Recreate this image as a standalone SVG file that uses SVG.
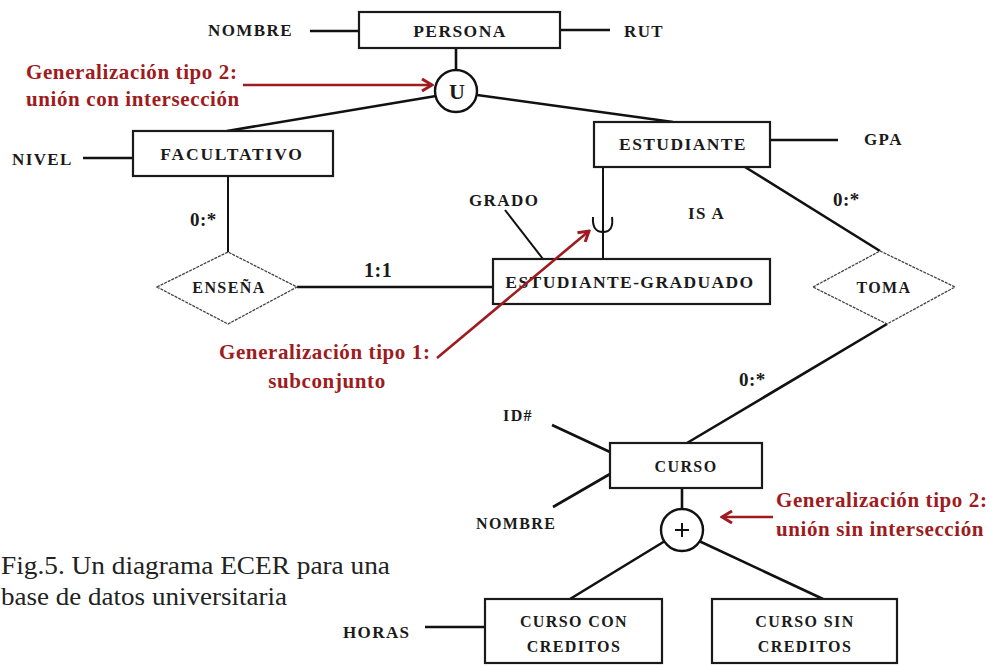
<svg xmlns="http://www.w3.org/2000/svg" width="989" height="667" viewBox="0 0 989 667">
  <defs>
    <marker id="redHead" markerWidth="14" markerHeight="14" viewBox="0 0 14 14" refX="12" refY="7" orient="auto" markerUnits="userSpaceOnUse">
      <path d="M2,1 L12,7 L2,13" fill="none" stroke="#9e1b20" stroke-width="3"/>
    </marker>
    <style>
      .ent { fill: #fff; stroke: #1a1a1a; stroke-width: 2.2; }
      .rel { fill: #fff; stroke: #444; stroke-width: 1.3; stroke-dasharray: 3 1; }
      .ln { stroke: #111; stroke-width: 2.6; fill: none; }
      .thin { stroke: #111; stroke-width: 2; fill: none; }
      .red { stroke: #9e1b20; stroke-width: 2.6; fill: none; }
      .t { font-family: "Liberation Serif", "Times New Roman", serif; font-weight: bold; font-size: 17.5px; letter-spacing: 1.4px; fill: #1a1a1a; }
      .a { font-size: 17px; }
      .s { font-size: 16px; }
      .c { text-anchor: middle; }
      .note { font-family: "Liberation Serif", "Times New Roman", serif; font-weight: bold; font-size: 21px; letter-spacing: 0.6px; fill: #9e1b20; }
      .card { font-size: 19px; letter-spacing: 0.5px; }
      .cap { font-family: "Liberation Serif", "Times New Roman", serif; font-size: 25px; fill: #222; }
    </style>
  </defs>
  <rect width="989" height="667" fill="#fff"/>

  <!-- connectors -->
  <g id="connectors">
    <!-- attributes -->
    <line class="ln" x1="310" y1="31" x2="359" y2="31"/>
    <line class="ln" x1="560" y1="30" x2="610" y2="30"/>
    <line class="ln" x1="83" y1="158" x2="133" y2="158"/>
    <line class="ln" x1="770" y1="140" x2="838" y2="140"/>
    <line class="thin" x1="505" y1="210" x2="543" y2="259"/>
    <line class="ln" x1="552" y1="425" x2="610" y2="452"/>
    <line class="ln" x1="553" y1="507" x2="610" y2="474"/>
    <line class="ln" x1="425" y1="627" x2="485" y2="627"/>
    <!-- union generalization PERSONA -->
    <line class="ln" x1="456" y1="48" x2="456" y2="70"/>
    <line class="ln" x1="436" y1="96" x2="227" y2="131"/>
    <line class="ln" x1="477" y1="95" x2="673" y2="122"/>
    <!-- relationship ENSEÑA -->
    <line class="thin" x1="228" y1="176" x2="228" y2="252"/>
    <line class="ln" x1="297" y1="287" x2="493" y2="287"/>
    <!-- subset ESTUDIANTE -> ESTUDIANTE-GRADUADO -->
    <line class="thin" x1="603" y1="167" x2="603" y2="259"/>
    <path class="thin" d="M593,217 Q592,232 603,232 Q614,232 612,217"/>
    <!-- relationship TOMA -->
    <line class="ln" x1="745" y1="167" x2="880" y2="251"/>
    <line class="ln" x1="887" y1="324" x2="687" y2="443"/>
    <!-- disjoint generalization CURSO -->
    <line class="ln" x1="682" y1="488" x2="682" y2="509"/>
    <line class="ln" x1="665" y1="541" x2="570" y2="599"/>
    <line class="ln" x1="699" y1="541" x2="823" y2="599"/>
  </g>

  <!-- entities -->
  <g id="persona">
    <rect class="ent" x="359" y="12" width="201" height="36"/>
    <text class="t c" x="460" y="37">PERSONA</text>
  </g>
  <g id="union-persona">
    <circle cx="456" cy="91" r="21" fill="#fff" stroke="#111" stroke-width="2.4"/>
    <text class="t c" x="457" y="99" style="font-size:22px;letter-spacing:0">U</text>
  </g>
  <g id="facultativo">
    <rect class="ent" x="133" y="131" width="200" height="45"/>
    <text class="t c" x="232" y="160" style="letter-spacing:1.8px">FACULTATIVO</text>
  </g>
  <g id="estudiante">
    <rect class="ent" x="594" y="122" width="176" height="45"/>
    <text class="t c" x="683" y="150">ESTUDIANTE</text>
  </g>
  <g id="ensena">
    <polygon class="rel" points="157,287 228,252 297,287 228,324"/>
    <text class="t c s" x="229" y="293">ENSEÑA</text>
  </g>
  <g id="estudiante-graduado">
    <rect class="ent" x="493" y="259" width="277" height="45"/>
    <text class="t c" x="630" y="288">ESTUDIANTE-GRADUADO</text>
  </g>
  <g id="toma">
    <polygon class="rel" points="813,287 880,251 955,287 887,324"/>
    <text class="t c s" x="884" y="293">TOMA</text>
  </g>
  <g id="curso">
    <rect class="ent" x="610" y="443" width="152" height="45"/>
    <text class="t c s" x="686" y="472">CURSO</text>
  </g>
  <g id="disjoint-curso">
    <circle cx="682" cy="530" r="21" fill="#fff" stroke="#111" stroke-width="2.4"/>
    <line class="thin" x1="675" y1="530" x2="689" y2="530"/>
    <line class="thin" x1="682" y1="523" x2="682" y2="537"/>
  </g>
  <g id="curso-con-creditos">
    <rect class="ent" x="485" y="599" width="177" height="64"/>
    <text class="t c s" x="574" y="627">CURSO CON</text>
    <text class="t c s" x="574" y="652">CREDITOS</text>
  </g>
  <g id="curso-sin-creditos">
    <rect class="ent" x="712" y="599" width="185" height="64"/>
    <text class="t c s" x="805" y="627">CURSO SIN</text>
    <text class="t c s" x="805" y="652">CREDITOS</text>
  </g>

  <!-- attribute names -->
  <g id="attributes">
    <text class="t a" x="208" y="36">NOMBRE</text>
    <text class="t a" x="624" y="37">RUT</text>
    <text class="t a" x="12" y="165">NIVEL</text>
    <text class="t a" x="864" y="145">GPA</text>
    <text class="t a" x="469" y="206">GRADO</text>
    <text class="t a" x="688" y="219">IS A</text>
    <text class="t s" x="503" y="421">ID#</text>
    <text class="t s" x="476" y="529">NOMBRE</text>
    <text class="t a" x="343" y="638">HORAS</text>
  </g>

  <!-- cardinalities -->
  <g id="cardinalities">
    <text class="t card" x="190" y="226">0:*</text>
    <text class="t card" x="364" y="277" style="font-size:20px">1:1</text>
    <text class="t card" x="833" y="206">0:*</text>
    <text class="t card" x="739" y="386">0:*</text>
  </g>

  <!-- annotations -->
  <g id="notes">
    <text class="note" x="26" y="79">Generalización tipo 2:</text>
    <text class="note" x="26" y="106">unión con intersección</text>
    <line class="red" x1="243" y1="85" x2="432" y2="85" marker-end="url(#redHead)"/>
    <text class="note" x="219" y="359">Generalización tipo 1:</text>
    <text class="note c" x="327" y="388">subconjunto</text>
    <line class="red" x1="437" y1="358" x2="589" y2="231" marker-end="url(#redHead)"/>
    <text class="note" x="776" y="507">Generalización tipo 2:</text>
    <text class="note" x="776" y="536">unión sin intersección</text>
    <line class="red" x1="773" y1="517" x2="722" y2="517" marker-end="url(#redHead)"/>
  </g>

  <!-- caption -->
  <g id="caption">
    <text class="cap" x="1" y="574" textLength="389" lengthAdjust="spacingAndGlyphs">Fig.5. Un diagrama ECER para una</text>
    <text class="cap" x="1" y="605" textLength="286" lengthAdjust="spacingAndGlyphs">base de datos universitaria</text>
  </g>
</svg>
